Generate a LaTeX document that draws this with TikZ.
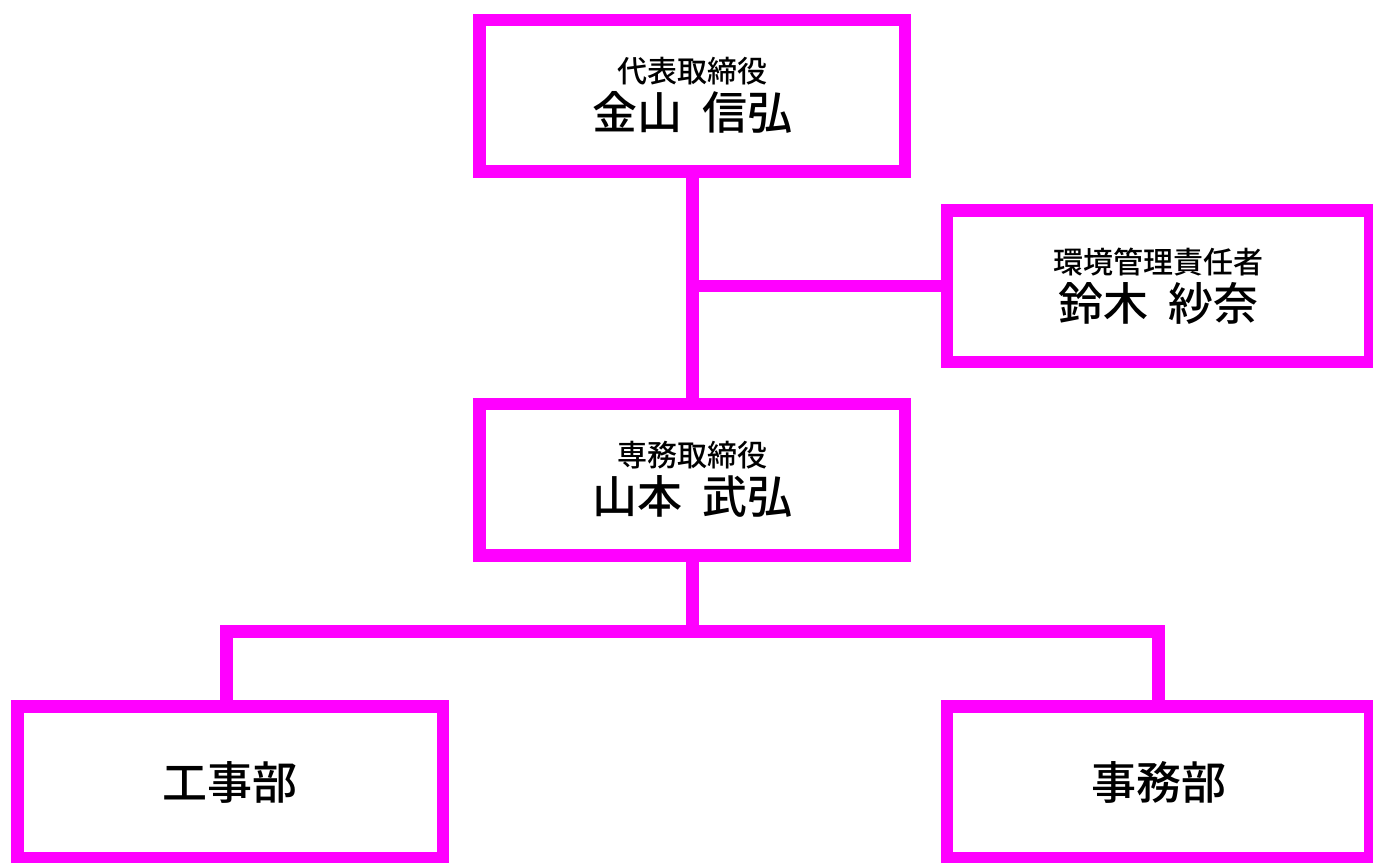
\documentclass[tikz,border=0pt]{standalone}
\usepackage{fontspec}
\newfontfamily\jpfont{Noto Sans CJK JP Medium}
\usetikzlibrary{positioning}

\definecolor{orgmagenta}{RGB}{255,0,255}
\newcommand{\yaku}[3]{{\fontsize{30}{47}\selectfont #1}\\#2\hspace{0.45em}#3}

\begin{document}
\begin{tikzpicture}[x=1pt,y=-1pt,line width=12.5pt,
	box/.style={draw=orgmagenta,rectangle,minimum width=425.5pt,minimum height=151.5pt,inner sep=0pt,align=center,font=\jpfont\fontsize{45}{47}\selectfont},
	right box/.style={box,minimum width=423pt},
	link/.style={draw=orgmagenta,line join=miter}]
		
		\useasboundingbox (0,0) rectangle (1373,862);
		
		\node[box] (daihyo) at (692.25,95.75) {\yaku{代表取締役}{金山}{信弘}};
		\node[box] (senmu) [below=220pt of daihyo] {\yaku{専務取締役}{山本}{武弘}};
		\node[right box] (kankyo) [below right=26.25pt and 29.5pt of daihyo] {\yaku{環境管理責任者}{鈴木}{紗奈}};
		\node[box] (koji) [below left=138.5pt and 24pt of senmu] {工事部};
		\node[right box] (jimu) [below right=138.5pt and 29.5pt of senmu] {事務部};
		\coordinate (bus) at ([yshift=-69.75pt]senmu.south);
		
		\path[link]
		(daihyo) edge (senmu)
		(kankyo) edge (kankyo -| daihyo)
		(senmu) edge (bus);
		\draw[link] ([xshift=-4pt]koji.north) |- (bus) -| (jimu.north);
		
\end{tikzpicture}
\end{document}
